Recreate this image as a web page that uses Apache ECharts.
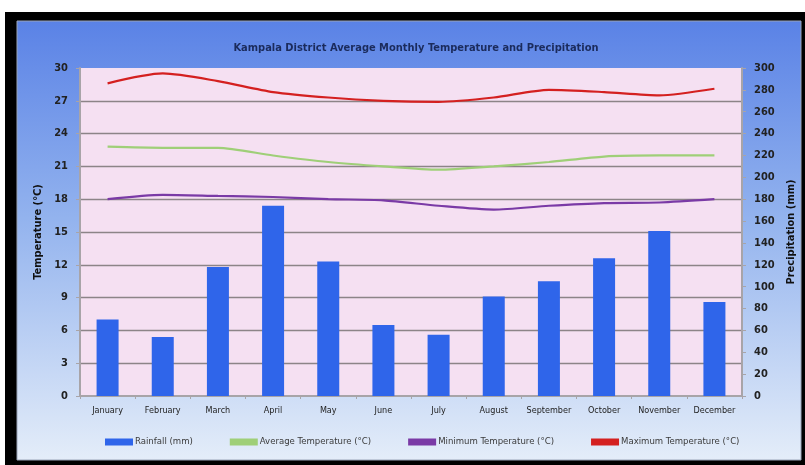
<!DOCTYPE html>
<html>
<head>
<meta charset="utf-8">
<script src="https://cdn.jsdelivr.net/npm/echarts@6/dist/echarts.min.js"></script>
<style>
html,body{margin:0;padding:0;background:#ffffff;}
#c{width:805px;height:465px;}
</style>
</head>
<body>
<div id="c"></div>
<script>
const months = ['January','February','March','April','May','June','July','August','September','October','November','December'];
const rainfall = [70, 54, 118, 174, 123, 65, 56, 91, 105, 126, 151, 86];
const avgTemp = [22.8, 22.7, 22.7, 22.0, 21.4, 21.0, 20.7, 21.0, 21.4, 21.9, 22.0, 22.0];
const minTemp = [18.0, 18.4, 18.3, 18.2, 18.0, 17.9, 17.4, 17.05, 17.4, 17.65, 17.7, 18.0];
const maxTemp = [28.6, 29.5, 28.8, 27.8, 27.3, 27.0, 26.9, 27.3, 28.0, 27.8, 27.5, 28.1];
const titleText = 'Kampala District Average Monthly Temperature and Precipitation';
const seriesNames = ['Rainfall (mm)', 'Average Temperature (°C)', 'Minimum Temperature (°C)', 'Maximum Temperature (°C)'];

const FONT = "'Liberation Sans Narrow', 'DejaVu Sans Condensed', 'Liberation Sans', sans-serif";
const chart = echarts.init(document.getElementById('c'), null, {renderer: 'canvas'});

chart.setOption({
  backgroundColor: '#ffffff',
  animation: false,
  textStyle: {fontFamily: FONT},
  graphic: [
    {type: 'rect', z: -10, silent: true, shape: {x: 5, y: 12, width: 800, height: 453}, style: {fill: '#000000'}},
    {type: 'rect', z: -9, silent: true, shape: {x: 17, y: 21, width: 784, height: 439},
      style: {
        fill: new echarts.graphic.LinearGradient(0, 0, 0, 1, [
          {offset: 0, color: '#5a82e6'},
          {offset: 0.45, color: '#93b3ee'},
          {offset: 1, color: '#e4edf9'}
        ]),
        stroke: '#9aa4b8', lineWidth: 1
      }}
  ],
  title: {
    text: titleText,
    left: 411, top: 38, textAlign: 'center',
    textStyle: {fontFamily: FONT, fontSize: 11, fontWeight: 'bold', color: '#1b2b5c'}
  },
  legend: {
    left: 100, top: 432,
    itemWidth: 28, itemHeight: 7, itemGap: 37,
    textStyle: {fontFamily: FONT, fontSize: 9.5, color: '#3a3a3a', padding: [0, 0, 0, -3]},
    data: [
      {name: seriesNames[0], icon: 'rect'},
      {name: seriesNames[1], icon: 'rect', itemStyle: {color: '#9fcf78'}},
      {name: seriesNames[2], icon: 'rect', itemStyle: {color: '#7a3aa6'}},
      {name: seriesNames[3], icon: 'rect', itemStyle: {color: '#d42020'}}
    ]
  },
  grid: {
    left: 80, right: 63, top: 68, bottom: 69,
    show: true, backgroundColor: '#f5e0f2', borderWidth: 0
  },
  xAxis: {
    type: 'category', data: months,
    axisLine: {lineStyle: {color: '#a8a4a8', width: 2}},
    axisTick: {show: true, length: 3, lineStyle: {color: '#a8a4a8'}},
    axisLabel: {fontFamily: FONT, fontSize: 9, color: '#222222', margin: 10, interval: 0}
  },
  yAxis: [
    {
      type: 'value', min: 0, max: 30, interval: 3,
      name: 'Temperature (°C)', nameLocation: 'middle', nameGap: 23, nameRotate: 90,
      nameTextStyle: {fontFamily: FONT, fontSize: 11, fontWeight: 'bold', color: '#111111'},
      axisLine: {show: true, lineStyle: {color: '#a8a4a8', width: 2}},
      axisTick: {show: true, length: 4, lineStyle: {color: '#a8a4a8'}},
      axisLabel: {fontFamily: FONT, fontSize: 11, fontWeight: 'bold', color: '#222222', margin: 12},
      splitLine: {show: true, showMaxLine: false, showMinLine: false, lineStyle: {color: '#8c8488', width: 1.3}}
    },
    {
      type: 'value', min: 0, max: 300, interval: 20, position: 'right',
      name: 'Precipitation (mm)', nameLocation: 'middle', nameGap: 31, nameRotate: 90,
      nameTextStyle: {fontFamily: FONT, fontSize: 11, fontWeight: 'bold', color: '#111111'},
      axisLine: {show: true, lineStyle: {color: '#a8a4a8', width: 2}},
      axisTick: {show: true, length: 4, lineStyle: {color: '#a8a4a8'}},
      axisLabel: {fontFamily: FONT, fontSize: 11, fontWeight: 'bold', color: '#222222', margin: 12},
      splitLine: {show: false}
    }
  ],
  series: [
    {
      name: seriesNames[0], type: 'bar', yAxisIndex: 1, data: rainfall,
      barWidth: 22, itemStyle: {color: '#2f65ea'}
    },
    {
      name: seriesNames[1], type: 'line', yAxisIndex: 0, data: avgTemp,
      smooth: 0.25, symbol: 'none', lineStyle: {color: '#9fcf78', width: 2.2}, itemStyle: {color: '#9fcf78'}
    },
    {
      name: seriesNames[2], type: 'line', yAxisIndex: 0, data: minTemp,
      smooth: 0.25, symbol: 'none', lineStyle: {color: '#7a3aa6', width: 2.2}, itemStyle: {color: '#7a3aa6'}
    },
    {
      name: seriesNames[3], type: 'line', yAxisIndex: 0, data: maxTemp,
      smooth: 0.25, symbol: 'none', lineStyle: {color: '#d42020', width: 2.2}, itemStyle: {color: '#d42020'}
    }
  ]
});
</script>
</body>
</html>
